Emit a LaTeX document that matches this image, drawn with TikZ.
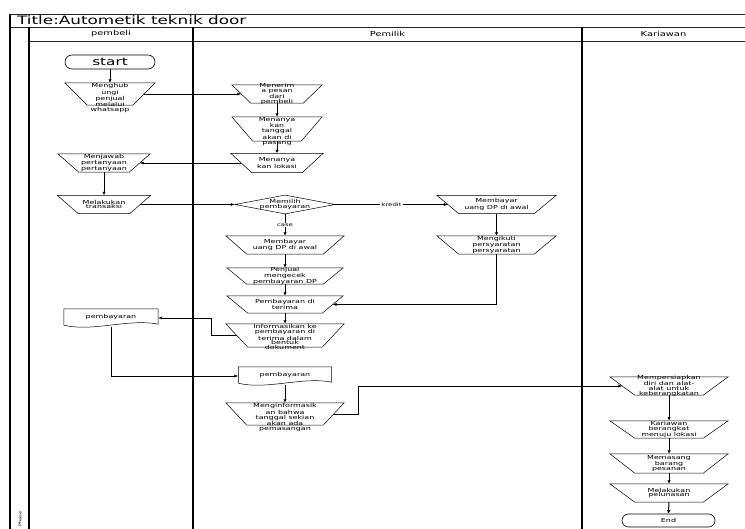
\documentclass[tikz,border=0pt]{standalone}
\usepackage{fontspec}
\setmainfont{DejaVu Sans}
\newfontfamily\wfont[FakeStretch=1.45]{DejaVu Sans}
\usetikzlibrary{shapes.geometric,arrows.meta,calc}
\tikzset{
  frame/.style={line width=0.8pt, draw=black!85},
  lanesep/.style={line width=1.2pt, draw=black},
  tbox/.style={rectangle, inner sep=0pt},
  trapline/.style={draw, line width=0.5pt},
  txt/.style={font=\wfont\fontsize{5.5pt}{4.9pt}\selectfont, align=center, inner sep=0pt},
  hdr/.style={font=\wfont\fontsize{6.8pt}{8pt}\selectfont, inner sep=0pt},
  term/.style={draw, line width=0.6pt, rectangle, rounded corners=7pt, inner sep=1pt},
  docnode/.style={inner sep=1pt},
  docline/.style={draw, line width=0.5pt},
  conn/.style={line width=0.5pt, -{Latex[length=4pt,width=3pt]}},
  vconn/.style={line width=1pt, -{Latex[length=3.5pt,width=3.5pt]}},
  lbl/.style={font=\wfont\fontsize{4.8pt}{5pt}\selectfont, fill=white, inner sep=1pt},
}
\newcommand\trapshape[6]{% name, cx, cy, w, h, inset
  \node[tbox, minimum width=#4pt, minimum height=#5pt] (#1) at (#2,#3) {};
  \draw[trapline] (#1.north west) -- (#1.north east) -- ($(#1.south east)+(-#6,0)$)
    -- ($(#1.south west)+(#6,0)$) -- cycle;
  \coordinate (#1-l) at ($(#1.west)+({#6/2},0)$);
  \coordinate (#1-r) at ($(#1.east)+({-#6/2},0)$);
}
\newcommand\trapat[7]{\trapshape{#1}{#2}{#3}{#4}{#5}{#6}\node[txt] at (#1) {#7};}
\newcommand\traptop[7]{\trapshape{#1}{#2}{#3}{#4}{#5}{#6}\node[txt, anchor=north] at ($(#1.north)+(0,0.6)$) {#7};}
\newcommand\docat[6]{% name, cx, cy, w, h, text
  \node[docnode, minimum width=#4pt, minimum height=#5pt] (#1) at (#2,#3) {};
  \draw[docline] (#1.north west) -- (#1.north east) -- ($(#1.south east)+(0,-3)$)
    .. controls ($(#1.south)+({0.2*#4},-9)$) and ($(#1.south)+({-0.2*#4},5)$) ..
    ($(#1.south west)+(0,-2)$) -- cycle;
  \node[txt] at ($(#1.center)+(0,-1.5)$) {#6};
}
\begin{document}
\begin{tikzpicture}[x=1pt,y=-1pt]
\useasboundingbox (0,0) rectangle (745,529);
% frame
\draw[frame] (10,14) -- (745,14);
\draw[frame] (10,27) -- (745,27);
\draw[frame] (29,41) -- (745,41);
\draw[lanesep] (10,14) -- (10,529);
\draw[lanesep] (29,27) -- (29,529);
\draw[lanesep] (193,27) -- (193,529);
\draw[lanesep] (582,27) -- (582,529);
\node[anchor=west, font=\wfont\fontsize{11.6pt}{13pt}\selectfont, inner sep=0pt] (title) at (17,20.5) {Title:Autometik teknik door};
\node[hdr] (lane1) at (111,34) {pembeli};
\node[hdr] (lane2) at (387.5,34) {Pemilik};
\node[hdr] (lane3) at (663.5,34) {Kariawan};
\node[rotate=90, anchor=center, font=\wfont\fontsize{3.6pt}{4pt}\selectfont, inner sep=0pt] (phase) at (20,519) {Phase};
% pembeli
\node[term, minimum width=90pt, minimum height=14pt] (start) at (110,62) {};
\node[font=\wfont\fontsize{10.5pt}{12pt}\selectfont, inner sep=0pt] at (start) {start};
\traptop{m1}{110}{94}{90}{22}{22.5}{Menghub\\ungi\\penjual\\melalui\\whatsapp}
\trapat{m2}{104}{163}{92}{18}{21}{Menjawab\\pertanyaan\\pertanyaan}
\trapat{m3}{104}{204.5}{93}{18}{21}{Melakukan\\transaksi}
\docat{doc1}{111}{318}{94}{18}{pembayaran}
% pemilik
\trapat{p1}{277}{94}{90}{18}{19}{Menerim\\a pesan\\dari\\pembeli}
\traptop{p2}{277}{129}{90}{24}{21}{Menanya\\kan\\tanggal\\akan di\\pasang}
\trapat{p3}{277}{163}{92}{19}{21}{Menanya\\kan lokasi}
\node[diamond, draw, line width=0.5pt, inner sep=1pt, minimum width=100pt, minimum height=19pt] (d1) at (285,204.5) {};
\node[txt] at (d1) {Memilih\\pembayaran};
\trapat{p4}{285}{245}{118}{18}{21}{Membayar\\uang DP di awal}
\trapat{p5}{285}{276}{116}{16}{20}{Penjual\\mengecek\\pembayaran DP}
\trapat{p6}{285}{304.5}{116}{17}{21}{Pembayaran di\\terima}
\traptop{p7}{285}{335.5}{118}{23}{22}{Informasikan ke\\pembayaran di\\terima dalam\\bentuk\\dokument}
\docat{doc2}{285}{376}{93}{18}{pembayaran}
\traptop{p8}{285}{414}{118}{22}{21}{Menginformasik\\an bahwa\\tanggal sekian\\akan ada\\pemasangan}
\trapat{p9}{496.5}{204.5}{119}{18}{22}{Membayar\\uang DP di awal}
\trapat{p10}{496.5}{245}{119}{18}{22}{Mengikuti\\persyaratan\\persyaratan}
% kariawan
\trapat{k1}{669}{386}{118}{18}{25}{Mempersiapkan\\diri dan alat-\\alat untuk\\keberangkatan}
\trapat{k2}{669}{429.5}{118}{17}{25}{Kariawan\\berangkat\\menuju lokasi}
\trapat{k3}{669}{463.5}{118}{19}{25}{Memasang\\barang\\pesanan}
\trapat{k4}{669}{493}{118}{18}{25}{Melakukan\\pelunasan}
\node[term, rounded corners=6.5pt, minimum width=93pt, minimum height=13pt] (end) at (668.5,520.5) {};
\node[txt] at (end) {End};
% coordinates
\coordinate (c1) at (211,335.5);
\coordinate (c2) at (358,414);
% connectors
\draw[vconn] (start) -- (m1);
\draw[conn] (m1-r) -- (p1-l);
\draw[vconn] (p1) -- (p2);
\draw[vconn] (p2) -- (p3);
\draw[conn] (p3-l) -- (m2-r);
\draw[vconn] (m2) -- (m3);
\draw[conn] (m3-r) -- (d1);
\draw[conn] (d1) -- node[lbl] {kredit} (p9-l);
\draw[vconn] (d1) -- node[lbl] {case} (p4);
\draw[vconn] (p4) -- (p5);
\draw[vconn] (p5) -- (p6);
\draw[vconn] (p6) -- (p7);
\draw[vconn] (p9) -- (p10);
\draw[conn] (p10) |- (p6-r);
\draw[conn] (p7-l) -- (c1) |- (doc1);
\draw[conn] (doc1) |- (doc2);
\draw[vconn] (doc2) -- (p8);
\draw[conn] (p8-r) -- (c2) |- (k1-l);
\draw[vconn] (k1) -- (k2);
\draw[vconn] (k2) -- (k3);
\draw[vconn] (k3) -- (k4);
\draw[vconn] (k4) -- (end);
\end{tikzpicture}
\end{document}
